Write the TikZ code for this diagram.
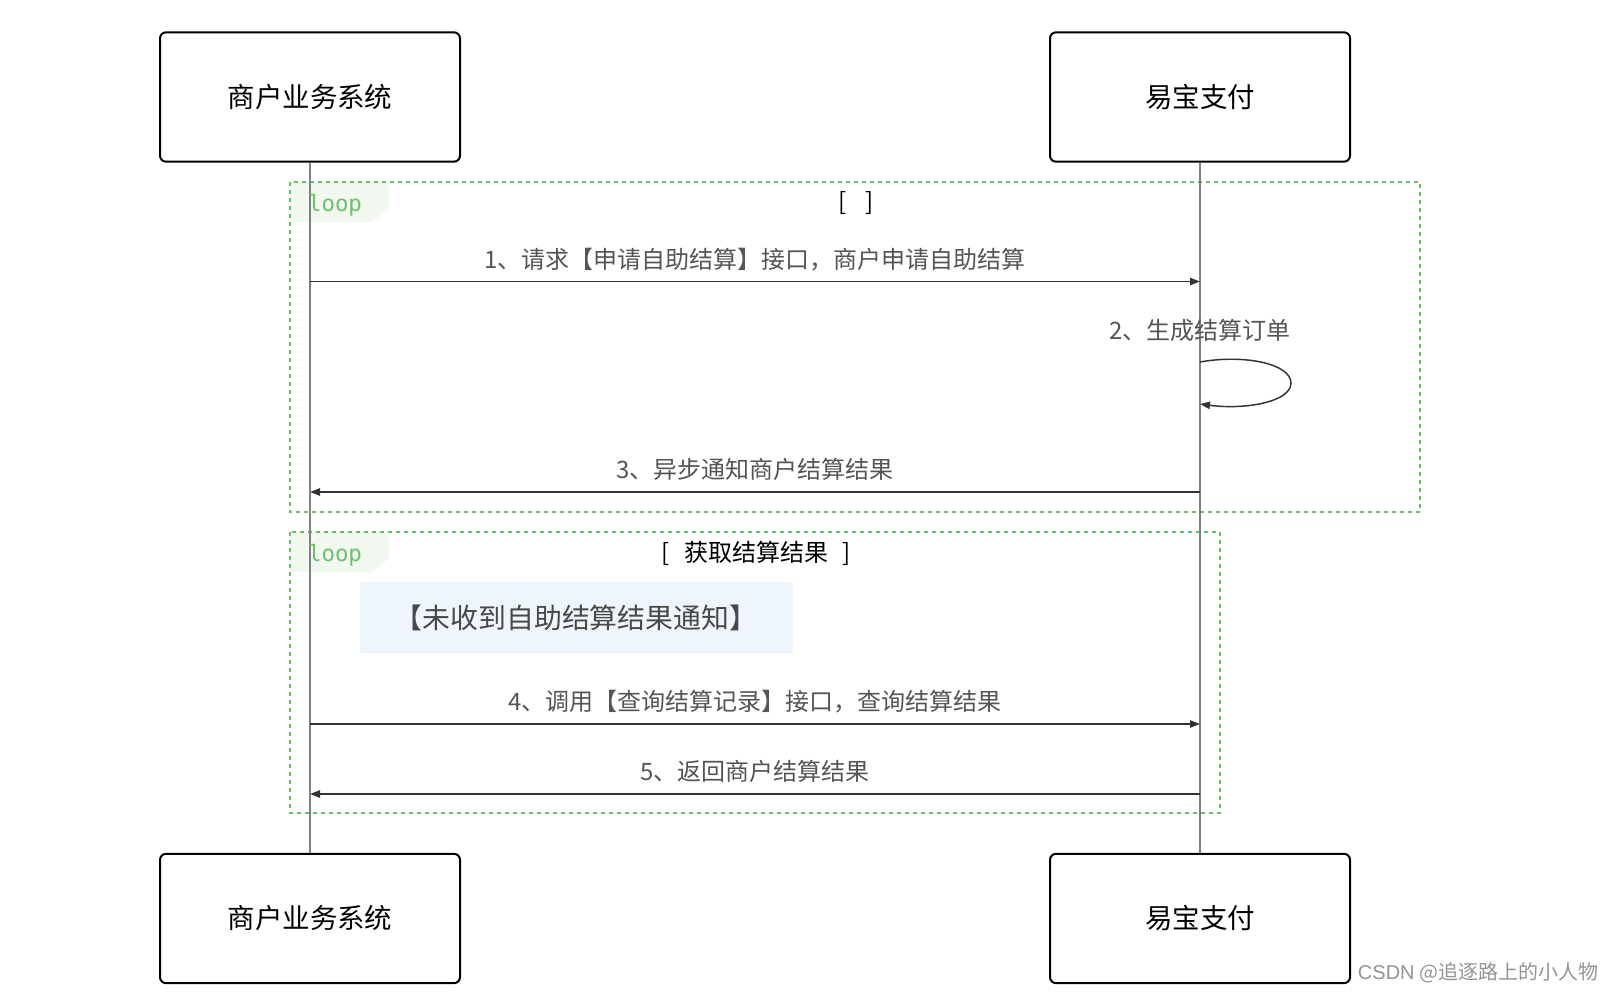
\documentclass[tikz,border=0pt]{standalone}
\usepackage{fontspec}
\setmainfont{Noto Sans CJK SC}
\newfontfamily\cjk{Noto Sans CJK SC}
\newfontfamily\monof{DejaVu Sans Mono}
\newfontfamily\wmfont{Liberation Sans}
\usetikzlibrary{arrows.meta}
\definecolor{loopgreen}{HTML}{6CBF6C}
\definecolor{loopbg}{HTML}{F1F8F0}
\definecolor{notebg}{HTML}{EEF5FC}
\definecolor{msgtext}{HTML}{555555}
\definecolor{linecol}{HTML}{333333}
\definecolor{lifecol}{HTML}{808080}
\tikzset{
  actor/.style={draw=black, line width=1.5pt, rounded corners=4.5pt, minimum width=225pt, minimum height=97pt, inner sep=0pt, font=\cjk\fontsize{20.6pt}{24pt}\selectfont},
  lifeline/.style={draw=lifecol, line width=0.9pt},
  msg/.style={draw=linecol, line width=1.1pt, -{Triangle[length=7.5pt,width=5.5pt]}},
  msglabel/.style={font=\cjk\fontsize{18pt}{22pt}\selectfont, text=msgtext, inner sep=0pt},
  loopbox/.style={draw=loopgreen, line width=1.4pt, dash pattern=on 3pt off 3pt},
  looptag/.style={font=\monof\fontsize{16.8pt}{19pt}\selectfont, text=loopgreen, inner sep=0pt},
  guard/.style={font=\cjk\fontsize{18pt}{22pt}\selectfont, text=black, inner sep=0pt},
}
\begin{document}
\begin{tikzpicture}[x=0.75pt,y=-0.75pt]
\useasboundingbox (0,0) rectangle (1610,992);
\fill[white] (0,0) rectangle (1610,992);
% loop frames
\fill[loopbg] (290,182) -- (389,182) -- (389,208) -- (372,222) -- (290,222) -- cycle;
\draw[loopbox] (290,182) rectangle (1420,512);
\fill[loopbg] (290,532) -- (389,532) -- (389,558) -- (372,572) -- (290,572) -- cycle;
\draw[loopbox] (290,532) rectangle (1220,813);
% note
\fill[notebg] (359.5,582) rectangle (793,653);
\node[font=\cjk\fontsize{20.9pt}{25pt}\selectfont, text=msgtext!85!black, inner sep=0pt] (note) at (576,618) {【未收到自助结算结果通知】};
% actors
\node[actor] (a1) at (310,97) {商户业务系统};
\node[actor] (b1) at (1200,97) {易宝支付};
\node[actor] (a2) at (310,918.5) {商户业务系统};
\node[actor] (b2) at (1200,918.5) {易宝支付};
\draw[lifeline] (a1.south) -- (a2.north);
\draw[lifeline] (b1.south) -- (b2.north);
% loop tags
\node[looptag] (tag1) at (335,205) {loop};
\node[guard] (g1) at (856,203) {[\hspace{14pt}]};
\node[looptag] (tag2) at (335,555) {loop};
\node[guard] (g2) at (756,553) {[\hspace{11pt}获取结算结果\hspace{11pt}]};
% messages
\coordinate (m1a) at (310,281.5);
\coordinate (m1b) at (1200,281.5);
\draw[msg] (m1a) -- (m1b);
\node[msglabel] (l1) at (755,260) {1、请求【申请自助结算】接口，商户申请自助结算};
\node[msglabel] (l2) at (1200,330) {2、生成结算订单};
\coordinate (s1) at (1200,362);
\coordinate (s2) at (1200,404);
\draw[msg] (s1) .. controls (1245,354) and (1291,364) .. (1291,383) .. controls (1291,402) and (1245,410) .. (s2);
\coordinate (m3a) at (1200,492);
\coordinate (m3b) at (310,492);
\draw[msg] (m3a) -- (m3b);
\node[msglabel] (l3) at (755,469) {3、异步通知商户结算结果};
\coordinate (m4a) at (310,724);
\coordinate (m4b) at (1200,724);
\draw[msg] (m4a) -- (m4b);
\node[msglabel] (l4) at (755,701.5) {4、调用【查询结算记录】接口，查询结算结果};
\coordinate (m5a) at (1200,794);
\coordinate (m5b) at (310,794);
\draw[msg] (m5a) -- (m5b);
\node[msglabel] (l5) at (755,771) {5、返回商户结算结果};
% watermark
\node[font=\cjk\fontsize{15pt}{18pt}\selectfont, text=black!42, inner sep=0pt] (wm) at (1478,973) {{\wmfont CSDN} @追逐路上的小人物};
\end{tikzpicture}
\end{document}
